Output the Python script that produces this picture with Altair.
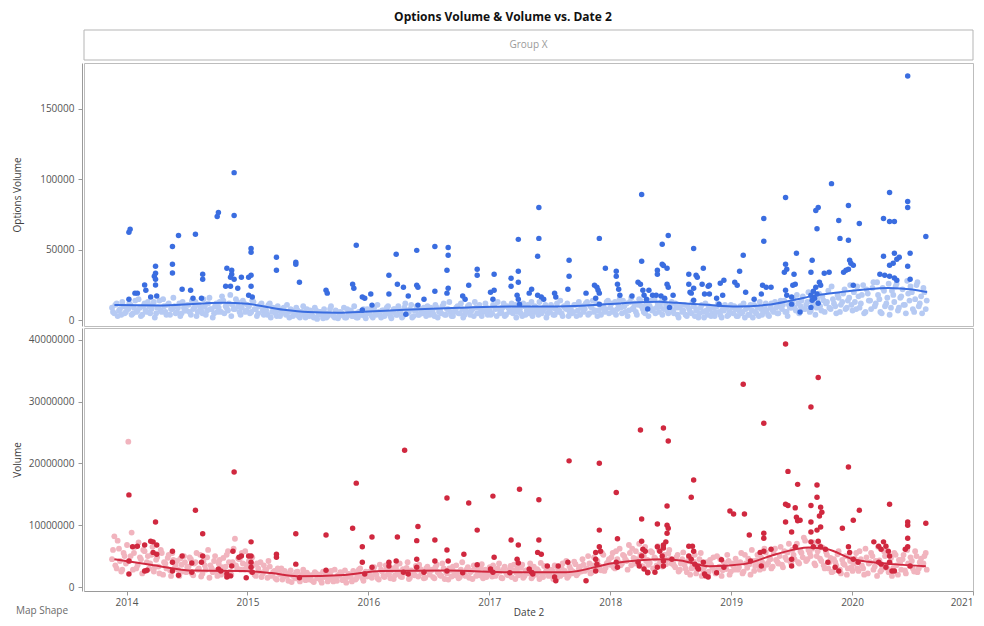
import altair as alt
import pandas as pd

TITLE = "Options Volume & Volume vs. Date 2"
GROUP = "Group X"

# ---------------- data ----------------
# light points: weekly values, series A starts Monday 2013-11-18, series B Thursday 2013-11-21
# Options Volume, thousands
opt_light_a_k = (
    [9, 5, 12, 7, 4, 10, 6]
    + [8, 11, 5, 14, 7, 9, 4, 12, 6, 10, 8, 13, 5, 9, 7, 15, 6, 11, 4, 8, 10, 6, 12, 5, 9, 7]
    + [11, 4, 8, 13, 6, 9, 5, 10, 7, 16, 8, 5, 12, 9, 6, 14, 10, 7, 18, 11, 8, 13, 6, 9, 12, 7]
    + [10, 6, 13, 8, 5, 11, 7, 9, 4, 12, 6, 8, 3, 7, 5, 9, 4, 6, 8, 3, 5, 7, 2, 6, 4, 8]
    + [3, 5, 2, 7, 4, 6, 1.5, 5, 3, 8, 4, 2, 6, 3, 5, 9, 2, 4, 7, 3, 5, 2, 6, 4, 3, 8]
    + [5, 3, 9, 4, 6, 2, 7, 5, 10, 3, 6, 8, 4, 7, 2, 9, 5, 6, 11, 3, 7, 4, 8, 5, 6, 10]
    + [4, 7, 3, 9, 6, 5, 12, 4, 8, 6, 3, 7, 10, 5, 8, 4, 6, 11, 7, 3, 9, 5, 8, 6, 12, 4]
    + [7, 5, 10, 3, 8, 6, 12, 4, 9, 7, 5, 11, 6, 8, 3, 10, 7, 5, 13, 6, 9, 4, 8, 7, 11, 5]
    + [6, 9, 4, 12, 7, 5, 10, 8, 3, 9, 6, 11, 7, 4, 10, 8, 13, 5, 9, 6, 12, 7, 4, 10, 8, 14]
    + [9, 6, 13, 8, 15, 5, 10, 12, 7, 16, 9, 6, 11, 14, 8, 5, 12, 10, 7, 15, 9, 6, 13, 8, 11, 5, 10]
    + [7, 12, 4, 9, 6, 11, 3, 8, 5, 10, 7, 2, 9, 6, 12, 4, 8, 5, 3, 10, 6, 2, 7, 9, 4, 11]
    + [5, 8, 3, 10, 6, 2, 9, 4, 7, 11, 5, 3, 8, 6, 12, 4, 9, 7, 13, 5, 10, 8, 14, 6, 11, 9]
    + [15, 7, 12, 10, 17, 8, 13, 6, 16, 11, 9, 19, 7, 14, 12, 21, 8, 15, 10, 18, 6, 13, 22, 9, 16, 11]
    + [20, 8, 17, 12, 25, 6, 19, 14, 23, 10, 27, 15, 5, 21, 12, 26, 9, 18, 24, 7, 16, 22, 11, 28, 14,
       20, 6, 25, 10, 17, 23, 8]
)
opt_light_b_k = (
    [6, 11, 3, 8, 13, 5, 9]
    + [12, 4, 9, 6, 15, 3, 10, 7, 13, 5, 11, 2, 9, 14, 6, 10, 4, 12, 8, 16, 5, 9, 3, 13, 7, 11]
    + [6, 14, 9, 3, 11, 7, 15, 4, 12, 8, 2, 10, 6, 13, 17, 5, 9, 12, 3, 8, 15, 10, 4, 14, 6, 11]
    + [5, 14, 8, 3, 10, 12, 4, 7, 11, 2, 9, 5, 10, 3, 8, 6, 11, 2, 7, 4, 9, 3, 6, 10, 2, 5]
    + [7, 3, 9, 1, 6, 4, 8, 2, 5, 10, 3, 7, 1.5, 6, 4, 2, 8, 5, 3, 10, 2, 6, 4, 8, 1.5, 5]
    + [8, 2, 6, 11, 4, 7, 3, 9, 5, 1.5, 8, 4, 10, 6, 3, 12, 5, 8, 2, 7, 10, 4, 6, 9, 3, 7]
    + [9, 5, 11, 2, 7, 10, 4, 8, 13, 3, 6, 9, 5, 12, 2, 7, 10, 4, 8, 13, 5, 11, 3, 7, 9, 6]
    + [4, 11, 8, 13, 5, 9, 3, 10, 6, 12, 8, 2, 9, 5, 12, 4, 11, 8, 3, 10, 6, 13, 5, 9, 2, 8]
    + [11, 4, 8, 6, 14, 3, 9, 12, 6, 5, 11, 3, 13, 9, 6, 12, 4, 10, 14, 7, 3, 11, 9, 6, 13, 5]
    + [12, 7, 4, 11, 9, 14, 6, 3, 13, 8, 12, 4, 15, 10, 6, 11, 3, 14, 8, 5, 12, 10, 4, 15, 7, 9, 13]
    + [5, 9, 2, 11, 7, 4, 10, 6, 13, 3, 8, 5, 11, 2, 7, 10, 3, 9, 6, 12, 4, 8, 11, 3, 6, 9]
    + [10, 3, 7, 5, 12, 8, 4, 11, 2, 6, 9, 13, 4, 10, 7, 3, 12, 6, 9, 5, 14, 11, 6, 3, 9, 12]
    + [9, 18, 5, 14, 8, 11, 20, 7, 12, 4, 15, 10, 17, 6, 13, 9, 24, 12, 5, 16, 11, 19, 8, 14, 25, 7]
    + [13, 24, 9, 18, 5, 22, 14, 8, 27, 12, 18, 6, 23, 10, 16, 4, 21, 13, 26, 9, 17, 11, 5, 19, 24,
       8, 15, 27, 12, 5, 20, 14]
)

# Volume, units of 100 000
vol_light_a_100k = (
    [45, 82, 30, 62, 25, 55, 38]
    + [235, 50, 28, 65, 35, 48, 22, 58, 40, 30, 52, 25, 44, 33, 60, 20, 38, 47, 27, 55, 31, 42, 18, 36, 50, 24]
    + [33, 45, 19, 40, 28, 52, 22, 35, 48, 15, 30, 42, 26, 38, 20, 47, 33, 58, 25, 40, 78, 30, 45, 55, 28, 36]
    + [42, 25, 35, 18, 30, 40, 22, 28, 15, 33, 20, 26, 12, 24, 30, 16, 22, 10, 27, 18, 14, 25, 9, 20, 15, 23]
    + [12, 19, 8, 22, 15, 11, 25, 17, 9, 20, 14, 28, 10, 18, 23, 13, 7, 21, 16, 26, 12, 19, 30, 14, 22, 17]
    + [25, 15, 32, 20, 12, 28, 18, 35, 22, 14, 30, 19, 26, 38, 16, 24, 31, 13, 27, 21, 34, 17, 29, 23, 15, 33]
    + [20, 28, 14, 36, 22, 18, 30, 25, 12, 27, 33, 19, 24, 16, 40, 21, 29, 15, 26, 35, 18, 23, 31, 14, 28, 20]
    + [32, 17, 26, 22, 38, 15, 29, 24, 19, 34, 27, 13, 30, 21, 36, 18, 25, 28, 14, 33, 20, 26, 39, 16, 23, 30]
    + [19, 27, 35, 15, 24, 31, 21, 42, 18, 28, 25, 37, 22, 33, 45, 26, 30, 38, 24, 48, 29, 35, 27, 52, 31, 40]
    + [36, 55, 30, 45, 62, 38, 50, 42, 68, 35, 47, 58, 40, 52, 33, 65, 44, 39, 56, 48, 35, 60, 42, 50, 37, 54, 46]
    + [40, 32, 52, 28, 45, 36, 24, 48, 30, 41, 22, 35, 55, 27, 38, 20, 44, 31, 26, 50, 33, 18, 39, 29, 42, 25]
    + [34, 46, 28, 40, 22, 52, 31, 37, 60, 26, 43, 35, 48, 30, 56, 39, 45, 33, 62, 41, 50, 36, 58, 44, 70, 38]
    + [52, 65, 40, 58, 48, 75, 45, 55, 62, 38, 50, 68, 42, 35, 57, 30, 47, 25, 40, 53, 28, 44, 36, 20, 48, 32]
    + [38, 55, 26, 45, 30, 62, 22, 40, 50, 33, 18, 43, 28, 58, 36, 24, 47, 31, 52, 20, 39, 45, 27, 60, 34,
       42, 25, 50, 30, 46, 38, 55]
)
vol_light_b_100k = (
    [60, 35, 75, 42, 28, 50, 68]
    + [42, 88, 55, 30, 72, 45, 60, 26, 50, 38, 65, 32, 48, 22, 55, 40, 30, 52, 18, 44, 35, 28, 46, 25, 40, 32]
    + [48, 22, 38, 55, 30, 17, 42, 28, 60, 35, 24, 50, 18, 44, 32, 25, 52, 40, 20, 62, 35, 46, 28, 38, 58, 30]
    + [30, 48, 20, 38, 25, 16, 35, 28, 42, 18, 24, 14, 30, 20, 12, 26, 18, 22, 8, 19, 24, 13, 17, 28, 11, 20]
    + [18, 10, 24, 14, 20, 7, 16, 22, 12, 26, 9, 15, 19, 24, 11, 27, 16, 20, 9, 23, 14, 28, 18, 10, 25, 21]
    + [18, 28, 22, 14, 36, 25, 16, 30, 20, 27, 13, 33, 21, 17, 29, 23, 40, 15, 25, 19, 28, 36, 22, 14, 30, 26]
    + [27, 16, 32, 24, 19, 38, 13, 22, 30, 17, 25, 35, 14, 28, 21, 18, 32, 24, 13, 30, 26, 19, 37, 22, 16, 29]
    + [21, 35, 18, 30, 25, 14, 33, 20, 28, 16, 36, 23, 19, 31, 15, 27, 22, 38, 17, 25, 29, 13, 21, 34, 27, 18]
    + [28, 13, 22, 30, 18, 38, 26, 15, 33, 22, 41, 19, 30, 25, 36, 28, 50, 22, 35, 29, 42, 33, 55, 26, 38, 45]
    + [48, 32, 58, 40, 35, 52, 45, 28, 55, 62, 38, 45, 70, 34, 50, 42, 36, 58, 30, 46, 66, 40, 33, 52, 44, 60, 38]
    + [35, 48, 25, 38, 56, 30, 42, 20, 36, 52, 28, 45, 18, 32, 40, 25, 36, 48, 22, 30, 45, 27, 35, 52, 20, 38]
    + [28, 40, 32, 55, 25, 38, 46, 20, 42, 34, 52, 28, 40, 62, 36, 48, 30, 55, 44, 38, 65, 32, 48, 56, 42, 60]
    + [45, 70, 38, 55, 80, 42, 60, 50, 72, 35, 58, 46, 64, 30, 52, 40, 24, 45, 35, 58, 22, 38, 50, 30, 42, 26]
    + [46, 30, 58, 35, 20, 48, 38, 55, 28, 42, 65, 25, 36, 50, 30, 40, 18, 55, 35, 44, 28, 52, 22, 38, 48,
       30, 58, 24, 40, 35, 50, 28]
)

# dark points: (decimal year, Options Volume in thousands)
opt_dark = [
    (2014.02, 62.4), (2014.03, 64.5), (2014.02, 15.0), (2014.07, 19.3), (2014.09, 19.3), (2014.15, 25.0),
    (2014.16, 21.4), (2014.20, 16.5), (2014.25, 17.2), (2014.24, 38.3), (2014.24, 33.4), (2014.23, 31.2),
    (2014.24, 29.1), (2014.24, 25.0), (2014.38, 52.4), (2014.38, 39.8), (2014.38, 33.5), (2014.43, 60.2),
    (2014.46, 22.0), (2014.53, 21.4), (2014.55, 15.7), (2014.57, 61.0), (2014.62, 15.7), (2014.63, 32.7),
    (2014.63, 29.2), (2014.75, 73.6), (2014.76, 76.5), (2014.83, 37.0), (2014.87, 35.5), (2014.87, 32.7),
    (2014.86, 30.6), (2014.89, 29.2), (2014.89, 74.3), (2014.89, 104.7), (2014.82, 24.2), (2014.86, 24.2),
    (2014.92, 22.8), (2014.95, 30.6), (2015.01, 30.6), (2015.03, 32.0), (2015.03, 24.2), (2015.03, 51.0),
    (2015.03, 48.2), (2015.01, 17.8), (2015.04, 16.5), (2015.24, 44.7), (2015.24, 35.5), (2015.40, 41.2),
    (2015.40, 39.8), (2015.43, 27.0), (2015.65, 21.4), (2015.66, 19.3), (2015.90, 53.2), (2015.87, 25.6),
    (2015.88, 22.8), (2015.95, 16.5), (2015.97, 15.7), (2016.02, 18.6), (2016.03, 10.8), (2015.95, 7.3),
    (2016.17, 32.0), (2016.17, 18.6), (2016.23, 46.8), (2016.24, 25.6), (2016.29, 23.5), (2016.33, 17.2),
    (2016.31, 4.4), (2016.40, 49.6), (2016.40, 24.9), (2016.41, 23.5), (2016.41, 10.8), (2016.46, 15.0),
    (2016.55, 52.4), (2016.55, 20.7), (2016.66, 51.7), (2016.66, 46.1), (2016.65, 35.5), (2016.66, 22.8),
    (2016.65, 19.3), (2016.78, 17.2), (2016.80, 15.0), (2016.83, 24.9), (2016.90, 36.2), (2016.90, 32.0),
    (2017.01, 20.0), (2017.04, 21.4), (2017.04, 32.7), (2017.03, 15.0), (2017.18, 29.9), (2017.18, 24.2),
    (2017.24, 27.0), (2017.24, 34.8), (2017.24, 57.4), (2017.23, 17.8), (2017.24, 15.0), (2017.25, 11.5),
    (2017.33, 19.3), (2017.35, 22.1), (2017.41, 80.0), (2017.41, 58.1), (2017.40, 45.4), (2017.40, 17.8),
    (2017.43, 16.5), (2017.45, 15.0), (2017.54, 19.3), (2017.55, 16.5), (2017.66, 42.6), (2017.66, 31.2),
    (2017.65, 22.1), (2017.80, 19.3), (2017.87, 24.9), (2017.89, 23.5), (2017.90, 21.4), (2017.91, 19.3),
    (2017.88, 15.7), (2017.91, 11.5), (2017.91, 58.1), (2017.96, 37.0), (2018.05, 34.8), (2018.05, 31.2),
    (2018.06, 25.6), (2018.07, 22.1), (2018.08, 17.8), (2018.18, 17.2), (2018.23, 27.0), (2018.25, 25.6),
    (2018.26, 89.2), (2018.26, 41.9), (2018.27, 21.4), (2018.28, 17.8), (2018.30, 15.0), (2018.31, 8.0),
    (2018.32, 21.4), (2018.35, 17.8), (2018.38, 17.8), (2018.42, 17.2), (2018.45, 15.7), (2018.39, 35.5),
    (2018.39, 32.7), (2018.43, 53.9), (2018.43, 39.8), (2018.44, 38.9), (2018.47, 37.0), (2018.48, 60.2),
    (2018.47, 25.6), (2018.48, 23.5), (2018.49, 9.2), (2018.52, 17.8), (2018.69, 51.0), (2018.77, 37.0),
    (2018.65, 32.7), (2018.71, 32.0), (2018.72, 30.6), (2018.65, 25.6), (2018.69, 22.8), (2018.66, 20.0),
    (2018.67, 19.3), (2018.76, 25.6), (2018.81, 24.2), (2018.82, 24.9), (2018.78, 18.6), (2018.82, 18.6),
    (2018.69, 14.3), (2018.88, 15.7), (2018.93, 17.8), (2018.91, 26.3), (2018.94, 28.4), (2018.90, 11.5),
    (2019.03, 27.0), (2019.05, 24.9), (2019.07, 34.8), (2019.10, 46.1), (2019.12, 20.0), (2019.19, 15.0),
    (2019.25, 18.6), (2019.26, 24.9), (2019.29, 23.5), (2019.33, 23.5), (2019.27, 72.2), (2019.27, 56.0),
    (2019.45, 87.0), (2019.45, 39.8), (2019.46, 36.2), (2019.44, 34.1), (2019.45, 21.4), (2019.46, 17.8),
    (2019.50, 16.5), (2019.50, 11.5), (2019.51, 24.9), (2019.53, 25.6), (2019.54, 47.5), (2019.52, 32.7),
    (2019.57, 5.9), (2019.66, 34.1), (2019.67, 42.6), (2019.66, 17.8), (2019.67, 14.3), (2019.68, 20.6),
    (2019.69, 15.7), (2019.70, 23.5), (2019.71, 18.6), (2019.72, 12.2), (2019.73, 27.0), (2019.74, 24.9),
    (2019.66, 9.2), (2019.70, 77.8), (2019.72, 80.0), (2019.71, 65.0), (2019.77, 33.4), (2019.81, 34.1),
    (2019.83, 96.9), (2019.89, 70.8), (2019.90, 58.1), (2019.97, 81.4), (2019.97, 56.7), (2020.06, 68.7),
    (2019.93, 34.1), (2019.95, 35.5), (2019.97, 36.2), (2019.98, 42.6), (2019.99, 40.5), (2020.01, 39.1),
    (2020.01, 24.9), (2020.26, 72.2), (2020.26, 45.4), (2020.31, 90.6), (2020.31, 70.0), (2020.31, 39.0),
    (2020.35, 70.0), (2020.34, 40.5), (2020.37, 43.3), (2020.39, 44.7), (2020.35, 47.5), (2020.23, 32.7),
    (2020.27, 32.0), (2020.31, 31.2), (2020.35, 30.0), (2020.37, 28.4), (2020.46, 173.2), (2020.46, 84.2),
    (2020.46, 80.0), (2020.46, 38.3), (2020.48, 47.5), (2020.48, 29.2), (2020.61, 59.5),
]

# dark points: (decimal year, Volume in millions)
vol_dark = [
    (2014.02, 14.9), (2014.02, 4.2), (2014.02, 2.1), (2014.05, 6.5), (2014.09, 6.6), (2014.15, 6.8),
    (2014.20, 7.4), (2014.22, 7.3), (2014.25, 6.8), (2014.22, 5.6), (2014.25, 5.3), (2014.15, 2.6),
    (2014.17, 2.7), (2014.24, 10.5), (2014.38, 5.8), (2014.38, 4.0), (2014.38, 2.6), (2014.43, 1.9),
    (2014.46, 5.0), (2014.54, 3.9), (2014.54, 2.4), (2014.57, 12.4), (2014.62, 4.0), (2014.63, 5.0),
    (2014.63, 8.6), (2014.76, 2.9), (2014.78, 2.6), (2014.83, 2.1), (2014.83, 1.6), (2014.86, 1.8),
    (2014.87, 3.4), (2014.88, 5.8), (2014.89, 18.6), (2014.93, 4.8), (2014.95, 5.0), (2015.01, 5.0),
    (2015.03, 5.0), (2015.03, 4.0), (2015.03, 3.2), (2015.04, 2.4), (2015.03, 7.3), (2014.99, 1.5),
    (2015.24, 5.3), (2015.24, 4.8), (2015.40, 8.6), (2015.40, 3.7), (2015.43, 1.5), (2015.65, 8.4),
    (2015.65, 2.7), (2015.87, 9.5), (2015.90, 16.8), (2015.95, 6.5), (2015.95, 4.0), (2015.97, 2.1),
    (2016.03, 8.1), (2016.03, 3.2), (2016.24, 8.1), (2016.30, 22.1), (2016.41, 9.8), (2016.40, 7.5),
    (2016.40, 4.5), (2016.40, 3.2), (2016.17, 4.0), (2016.17, 3.4), (2016.23, 4.2), (2016.29, 2.4),
    (2016.33, 2.1), (2016.46, 2.4), (2016.55, 7.6), (2016.55, 4.2), (2016.65, 14.4), (2016.65, 6.0),
    (2016.66, 4.2), (2016.65, 2.6), (2016.83, 13.6), (2016.90, 9.2), (2016.90, 3.6), (2016.79, 5.3),
    (2016.78, 2.3), (2017.03, 14.7), (2017.04, 4.8), (2017.01, 2.9), (2017.03, 2.4), (2017.18, 7.6),
    (2017.24, 6.8), (2017.23, 4.5), (2017.24, 3.9), (2017.25, 15.8), (2017.17, 2.3), (2017.33, 2.9),
    (2017.35, 2.4), (2017.36, 2.1), (2017.41, 14.1), (2017.41, 7.6), (2017.40, 5.6), (2017.43, 5.3),
    (2017.48, 3.4), (2017.54, 1.6), (2017.55, 1.0), (2017.57, 3.4), (2017.66, 20.4), (2017.65, 4.0),
    (2017.80, 1.0), (2017.91, 20.0), (2017.91, 9.2), (2017.91, 6.5), (2017.92, 5.8), (2017.88, 5.6),
    (2017.88, 4.5), (2017.89, 3.7), (2017.88, 2.6), (2018.05, 15.3), (2018.06, 7.8), (2018.05, 4.0),
    (2018.06, 3.2), (2018.25, 25.4), (2018.44, 25.7), (2018.48, 23.6), (2018.26, 11.0), (2018.26, 7.4),
    (2018.27, 6.1), (2018.26, 5.0), (2018.29, 5.8), (2018.23, 4.0), (2018.24, 3.4), (2018.28, 2.9),
    (2018.31, 2.3), (2018.39, 10.2), (2018.47, 13.1), (2018.47, 10.0), (2018.48, 9.5), (2018.47, 8.7),
    (2018.46, 7.3), (2018.44, 6.8), (2018.44, 6.3), (2018.39, 6.5), (2018.41, 5.8), (2018.43, 5.0),
    (2018.44, 4.2), (2018.44, 3.4), (2018.39, 3.2), (2018.37, 2.4), (2018.31, 2.4), (2018.51, 4.5),
    (2018.67, 14.5), (2018.69, 17.3), (2018.65, 6.6), (2018.68, 6.6), (2018.69, 5.8), (2018.65, 5.0),
    (2018.67, 4.5), (2018.70, 3.7), (2018.72, 3.2), (2018.73, 2.9), (2018.77, 4.0), (2018.78, 2.1),
    (2018.81, 1.6), (2018.79, 1.8), (2018.88, 2.3), (2018.92, 4.4), (2018.94, 3.2), (2018.99, 12.3),
    (2019.02, 11.8), (2019.11, 11.8), (2019.10, 32.8), (2019.15, 8.4), (2019.16, 4.2), (2019.24, 5.6),
    (2019.25, 3.4), (2019.27, 26.5), (2019.27, 8.7), (2019.27, 7.9), (2019.27, 5.8), (2019.33, 6.1),
    (2019.45, 39.3), (2019.45, 13.4), (2019.45, 10.5), (2019.47, 18.7), (2019.47, 13.2), (2019.50, 3.4),
    (2019.50, 4.5), (2019.50, 8.9), (2019.53, 6.5), (2019.53, 12.8), (2019.54, 11.3), (2019.55, 16.6),
    (2019.55, 10.7), (2019.57, 10.8), (2019.66, 29.1), (2019.66, 13.2), (2019.66, 10.5), (2019.66, 8.9),
    (2019.66, 7.3), (2019.71, 16.5), (2019.71, 14.5), (2019.71, 9.2), (2019.72, 33.9), (2019.72, 7.4),
    (2019.74, 12.9), (2019.74, 9.7), (2019.75, 12.1), (2019.73, 11.5), (2019.68, 6.5), (2019.74, 6.5),
    (2019.78, 6.1), (2019.80, 4.0), (2019.86, 3.2), (2019.89, 2.6), (2019.97, 19.4), (2019.97, 6.5),
    (2019.92, 9.5), (2020.01, 10.8), (2020.01, 4.5), (2019.98, 5.6), (2020.06, 12.4), (2020.05, 4.0),
    (2020.31, 13.4), (2020.18, 7.3), (2020.22, 6.6), (2020.24, 6.1), (2020.26, 7.3), (2020.28, 6.6),
    (2020.30, 5.8), (2020.31, 5.0), (2020.22, 4.0), (2020.24, 3.7), (2020.28, 3.2), (2020.31, 4.0),
    (2020.33, 2.6), (2020.35, 2.6), (2020.46, 10.5), (2020.46, 10.0), (2020.46, 7.9), (2020.46, 6.5),
    (2020.44, 6.1), (2020.48, 3.4), (2020.61, 10.3),
]

# smoother curves (decimal year, value)
opt_smooth_k = [
    (2013.90, 10.8), (2014.30, 10.6), (2014.80, 12.5), (2015.00, 11.7), (2015.30, 7.5), (2015.50, 5.9),
    (2015.75, 5.4), (2016.00, 6.3), (2016.30, 7.5), (2016.75, 8.9), (2017.20, 9.9), (2017.50, 9.9),
    (2017.80, 10.6), (2018.10, 12.2), (2018.40, 13.2), (2018.55, 12.4), (2018.80, 11.0), (2019.05, 9.9),
    (2019.30, 11.0), (2019.50, 14.1), (2019.70, 17.7), (2019.90, 20.0), (2020.10, 21.9), (2020.30, 23.0),
    (2020.50, 21.9), (2020.62, 20.0),
]
vol_smooth_m = [
    (2013.90, 4.5), (2014.20, 3.6), (2014.56, 2.65), (2014.97, 2.6), (2015.20, 2.25), (2015.41, 1.75),
    (2015.80, 1.95), (2016.10, 2.6), (2016.65, 2.65), (2017.20, 2.4), (2017.64, 2.4), (2018.02, 3.85),
    (2018.44, 4.5), (2018.58, 4.3), (2018.82, 3.35), (2019.10, 3.7), (2019.37, 5.3), (2019.64, 6.4),
    (2019.79, 6.15), (2020.01, 4.5), (2020.34, 3.7), (2020.61, 3.35),
]

YEARS = [2014, 2015, 2016, 2017, 2018, 2019, 2020, 2021]
OPT_TICKS = [0, 50000, 100000, 150000]
VOL_TICKS = [0, 10000000, 20000000, 30000000, 40000000]

# ---------------- frames ----------------
def weekly_years(n, start):
    d = pd.date_range(start, periods=n, freq="7D")
    return list(d.year + (d.dayofyear - 0.5) / 365.25)


def light_frame(a, b, unit):
    yrs = weekly_years(len(a), "2013-11-18") + weekly_years(len(b), "2013-11-21")
    return pd.DataFrame({"yr": yrs, "v": [v * unit for v in a + b]})


opt_light = light_frame(opt_light_a_k, opt_light_b_k, 1000)
vol_light = light_frame(vol_light_a_100k, vol_light_b_100k, 100000)
opt_hi = pd.DataFrame({"yr": [a for a, b in opt_dark], "v": [b * 1000 for a, b in opt_dark]})
vol_hi = pd.DataFrame({"yr": [a for a, b in vol_dark], "v": [b * 1e6 for a, b in vol_dark]})
opt_sm = pd.DataFrame({"yr": [a for a, b in opt_smooth_k], "v": [b * 1000 for a, b in opt_smooth_k]})
vol_sm = pd.DataFrame({"yr": [a for a, b in vol_smooth_m], "v": [b * 1e6 for a, b in vol_smooth_m]})

# ---------------- style ----------------
FONT = "Open Sans"
W, HH, H1, H2 = 889, 52, 263, 263
XDOM = [2013.6485, 2021.0]
BLUE, LBLUE = "#3a6de0", "#b6caf3"
RED, LRED = "#d0283f", "#f1b4be"
PT_DARK, PT_LIGHT = 30, 34

ax_common = dict(
    labelFont=FONT, labelFontSize=10, labelColor="#555555",
    titleFont=FONT, titleFontSize=10, titleColor="#404040", titleFontWeight="normal",
    tickColor="#9a9a9a", domainColor="#9a9a9a", tickSize=4, grid=False, format="d",
)
yax = dict(ax_common, labelPadding=4, offset=2, minExtent=56, maxExtent=56, titlePadding=4)

xs = alt.Scale(domain=XDOM, nice=False, zero=False)


def panel(light, hi, sm, ydom, ticks, title, c_dark, c_light, height, xaxis):
    ys = alt.Scale(domain=ydom, nice=False, zero=False)
    y = alt.Y("v:Q", scale=ys, axis=alt.Axis(title=title, values=ticks, **yax))
    x = alt.X("yr:Q", scale=xs, axis=xaxis)
    l1 = alt.Chart(light).mark_circle(size=PT_LIGHT, opacity=1, color=c_light, clip=True).encode(x=x, y=y)
    l2 = alt.Chart(sm).mark_line(color=c_dark, strokeWidth=2, interpolate="monotone", clip=True).encode(x=x, y=y)
    l3 = alt.Chart(hi).mark_circle(size=PT_DARK, opacity=1, color=c_dark, clip=True).encode(x=x, y=y)
    return alt.layer(l1, l2, l3).properties(width=W, height=height)


top = panel(opt_light, opt_hi, opt_sm, [-4000, 182400], OPT_TICKS, "Options Volume",
            BLUE, LBLUE, H1, None)

x_axis = alt.Axis(title="Date 2", values=YEARS, labelPadding=2, titlePadding=0,
                  labelFlush=5, **ax_common)
bottom = panel(vol_light, vol_hi, vol_sm, [-646000, 41890000], VOL_TICKS, "Volume",
               RED, LRED, H2, x_axis)

dummy = pd.DataFrame({"a": [0]})
map_shape = alt.Chart(dummy).mark_text(text="Map Shape", font=FONT, fontSize=10, color="#6a6a6a").encode(
    x=alt.value(-42), y=alt.value(H2 + 20))
bottom = alt.layer(bottom, map_shape)

hdr_title = alt.Chart(dummy).mark_text(text=TITLE, font=FONT, fontSize=12, fontWeight="bold",
                                       color="#111111").encode(x=alt.value(419), y=alt.value(8))
hdr_strip = alt.Chart(dummy).mark_rect(fill="#ffffff", stroke="#b5b5b5", strokeWidth=1).encode(
    x=alt.value(0), x2=alt.value(W), y=alt.value(21), y2=alt.value(51))
hdr_text = alt.Chart(dummy).mark_text(text=GROUP, font=FONT, fontSize=10, color="#9a9a9a").encode(
    x=alt.value(W / 2), y=alt.value(36))
header = alt.layer(hdr_strip, hdr_text, hdr_title).properties(
    width=W, height=HH, view=alt.ViewBackground(stroke="transparent"))

chart = alt.vconcat(header, top, bottom, spacing=0).properties(
    padding={"left": 3, "top": 0, "right": 0, "bottom": 0},
    background="#ffffff",
).configure_view(stroke="#bdbdbd", strokeWidth=1)

chart.save("out.html", embed_options={"renderer": "svg", "actions": False})
